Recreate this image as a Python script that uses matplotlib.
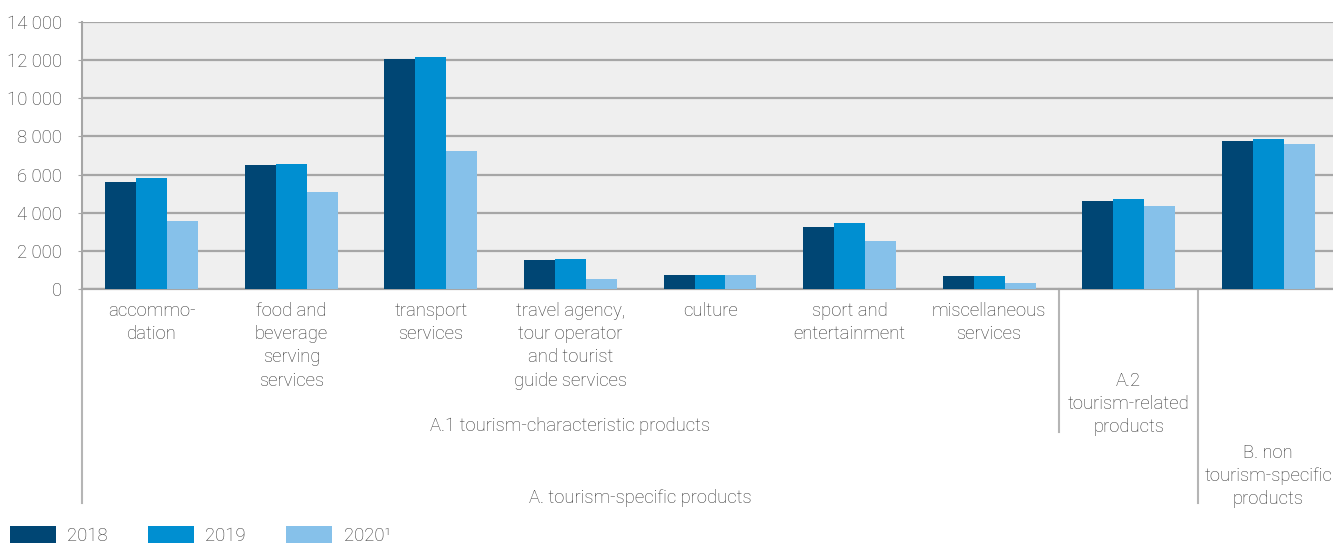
import numpy as np
import matplotlib.pyplot as plt
import matplotlib.transforms as mtransforms
from matplotlib.patches import Patch
from matplotlib.lines import Line2D
from matplotlib.ticker import FuncFormatter

plt.rcParams['font.family'] = ['Roboto', 'DejaVu Sans']
plt.rcParams['font.weight'] = 'light'

# data
categories = ['accommo-\ndation', 'food and\nbeverage\nserving\nservices', 'transport\nservices',
              'travel agency,\ntour operator\nand tourist\nguide services', 'culture',
              'sport and\nentertainment', 'miscellaneous\nservices', '', '']
years = ['2018', '2019', '2020¹']
v2018 = [5600, 6490, 12050, 1500, 710, 3230, 660, 4600, 7750]
v2019 = [5800, 6540, 12160, 1550, 760, 3440, 660, 4700, 7850]
v2020 = [3550, 5070, 7220, 500, 710, 2500, 340, 4330, 7590]
colors = ['#004674', '#008fd1', '#86c1ea']

fs = 13.3
fig = plt.figure(figsize=(13.33, 5.44), dpi=100)
# plot area runs slightly past the right edge of the figure, as in the original
ax = fig.add_axes([82 / 1333, 1 - 289 / 544, (1338 - 82) / 1333, (289 - 22) / 544])
ax.set_facecolor('#efefef')

x = np.arange(len(categories))
w = 0.222
for i, vals in enumerate([v2018, v2019, v2020]):
    ax.bar(x + (i - 1) * w, vals, w, color=colors[i], zorder=3)

ax.set_xlim(-0.5, len(categories) - 0.5)
ax.set_ylim(0, 14000)
ax.set_yticks(np.arange(0, 14001, 2000))
ax.yaxis.set_major_formatter(FuncFormatter(lambda v, p: f'{int(v):,}'.replace(',', ' ')))
ax.grid(axis='y', color='#a6a6a6', linewidth=1.6, zorder=1)
ax.set_xticks([])
for s in ['top', 'right']:
    ax.spines[s].set_visible(False)
ax.spines['left'].set_color('#a6a6a6')
ax.spines['left'].set_linewidth(1.5)
ax.spines['bottom'].set_color('#a6a6a6')
ax.spines['bottom'].set_linewidth(1.6)
ax.tick_params(axis='y', length=3, color='#a6a6a6', labelsize=fs, labelcolor='#333333', pad=11.5)

trans = mtransforms.blended_transform_factory(ax.transData, fig.transFigure)

def fy(py):
    return 1 - py / 544

txt = dict(ha='center', va='top', fontsize=fs, color='#333333', transform=trans, linespacing=1.37)
for xi, lab in zip(x, categories):
    if lab:
        ax.text(xi, fy(302), lab, **txt)

ax.text(3, fy(417), 'A.1 tourism-characteristic products', **txt)
ax.text(3.5, fy(489), 'A. tourism-specific products', **txt)
ax.text(7, fy(372), 'A.2\ntourism-related\nproducts', **txt)
ax.text(8, fy(444), 'B. non\ntourism-specific\nproducts', **txt)

# group separators below the axis
for xs, yb in [(-0.5, 503), (6.5, 432), (7.5, 503)]:
    ax.add_line(Line2D([xs, xs], [fy(289), fy(yb)], transform=trans, color='#b5b5b5',
                       linewidth=1.5, clip_on=False))

handles = [Patch(facecolor=c, edgecolor='none') for c in colors]
fig.legend(handles, years, loc='lower left', bbox_to_anchor=(0.002, -0.015), ncol=3, frameon=False,
           fontsize=fs, handlelength=2.5, handleheight=1.1, handletextpad=0.6,
           columnspacing=2.18, borderaxespad=0.0, labelcolor='#333333')

fig.savefig('out.png', dpi=100)
